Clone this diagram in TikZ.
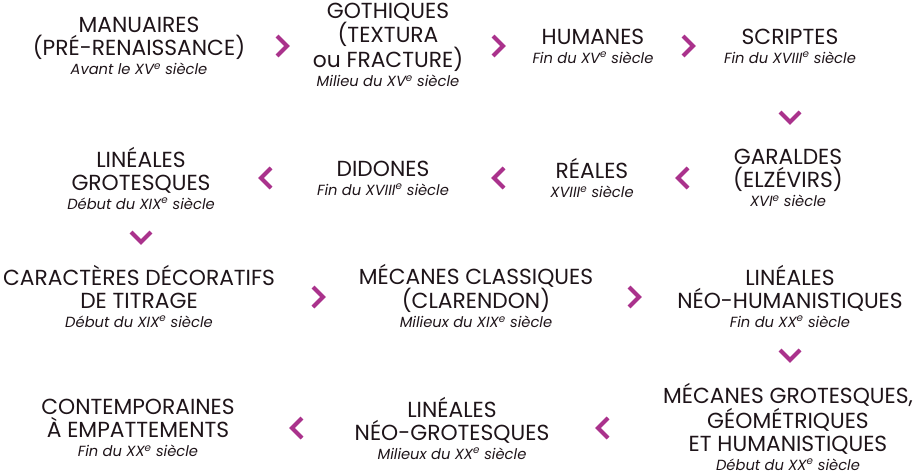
\documentclass[tikz,border=0pt]{standalone}
\usepackage{fontspec}
\setmainfont{Poppins}
\definecolor{chevc}{RGB}{170,50,140}
\definecolor{txt}{RGB}{30,20,25}
\newcommand{\epoque}[1]{{\itshape\fontsize{14.7}{15}\selectfont #1}}
\newcommand{\sx}{\textsuperscript{e}}
\tikzset{
  lab/.style={align=center, text=txt, font=\fontsize{21.8}{23}\selectfont, inner sep=0pt},
  chev/.style={draw=chevc, line width=4pt, line join=miter},
}
\begin{document}
\begin{tikzpicture}[x=1pt,y=-1pt]
\useasboundingbox (0,0) rectangle (921,474);
% row 1
\node[lab] (manu) at (139,46) {MANUAIRES\\(PRÉ-RENAISSANCE)\\[-4pt]\epoque{Avant le XV\sx{} siècle}};
\node[lab] (goth) at (388,45) {GOTHIQUES\\(TEXTURA\\ou FRACTURE)\\[-4pt]\epoque{Milieu du XV\sx{} siècle}};
\node[lab] (huma) at (593,46) {HUMANES\\[-4pt]\epoque{Fin du XV\sx{} siècle}};
\node[lab] (scri) at (790,46) {SCRIPTES\\[-4pt]\epoque{Fin du XVIII\sx{} siècle}};
% row 2
\node[lab] (line) at (141,178) {LINÉALES\\GROTESQUES\\[-4pt]\epoque{Début du XIX\sx{} siècle}};
\node[lab] (dido) at (383,178) {DIDONES\\[-4pt]\epoque{Fin du XVIII\sx{} siècle}};
\node[lab] (real) at (592,178) {RÉALES\\[-4pt]\epoque{XVIII\sx{} siècle}};
\node[lab] (gara) at (788,178) {GARALDES\\(ELZÉVIRS)\\[-4pt]\epoque{XVI\sx{} siècle}};
% row 3
\node[lab] (cara) at (139,296) {CARACTÈRES DÉCORATIFS\\DE TITRAGE\\[-4pt]\epoque{Début du XIX\sx{} siècle}};
\node[lab] (meca) at (476,296) {MÉCANES CLASSIQUES\\(CLARENDON)\\[-4pt]\epoque{Milieux du XIX\sx{} siècle}};
\node[lab] (neoh) at (790,296) {LINÉALES\\NÉO-HUMANISTIQUES\\[-4pt]\epoque{Fin du XX\sx{} siècle}};
% row 4
\node[lab] (mgro) at (788,427) {MÉCANES GROTESQUES,\\GÉOMÉTRIQUES\\ET HUMANISTIQUES\\[-4pt]\epoque{Début du XX\sx{} siècle}};
\node[lab] (neog) at (452,428) {LINÉALES\\NÉO-GROTESQUES\\[-4pt]\epoque{Milieux du XX\sx{} siècle}};
\node[lab] (cont) at (138,428) {CONTEMPORAINES\\À EMPATTEMENTS\\[-4pt]\epoque{Fin du XX\sx{} siècle}};
% chevron positions
\coordinate (c1) at (282,46);
\coordinate (c2) at (498,46);
\coordinate (c3) at (688,46);
\coordinate (d1) at (790,117);
\coordinate (c4) at (683,178);
\coordinate (c5) at (499,178);
\coordinate (c6) at (266,178);
\coordinate (d2) at (141,237);
\coordinate (c7) at (318,297);
\coordinate (c8) at (634,297);
\coordinate (d3) at (790,355);
\coordinate (c9) at (603,428);
\coordinate (c10) at (297,428);
% right chevrons
\foreach \c in {c1,c2,c3,c7,c8}
  \draw[chev] ([shift={(-5,-10)}]\c) -- ([shift={(5,0)}]\c) -- ([shift={(-5,10)}]\c);
% left chevrons
\foreach \c in {c4,c5,c6,c9,c10}
  \draw[chev] ([shift={(5,-10)}]\c) -- ([shift={(-5,0)}]\c) -- ([shift={(5,10)}]\c);
% down chevrons
\foreach \c in {d1,d2,d3}
  \draw[chev] ([shift={(-10,-5)}]\c) -- ([shift={(0,5)}]\c) -- ([shift={(10,-5)}]\c);
\end{tikzpicture}
\end{document}
